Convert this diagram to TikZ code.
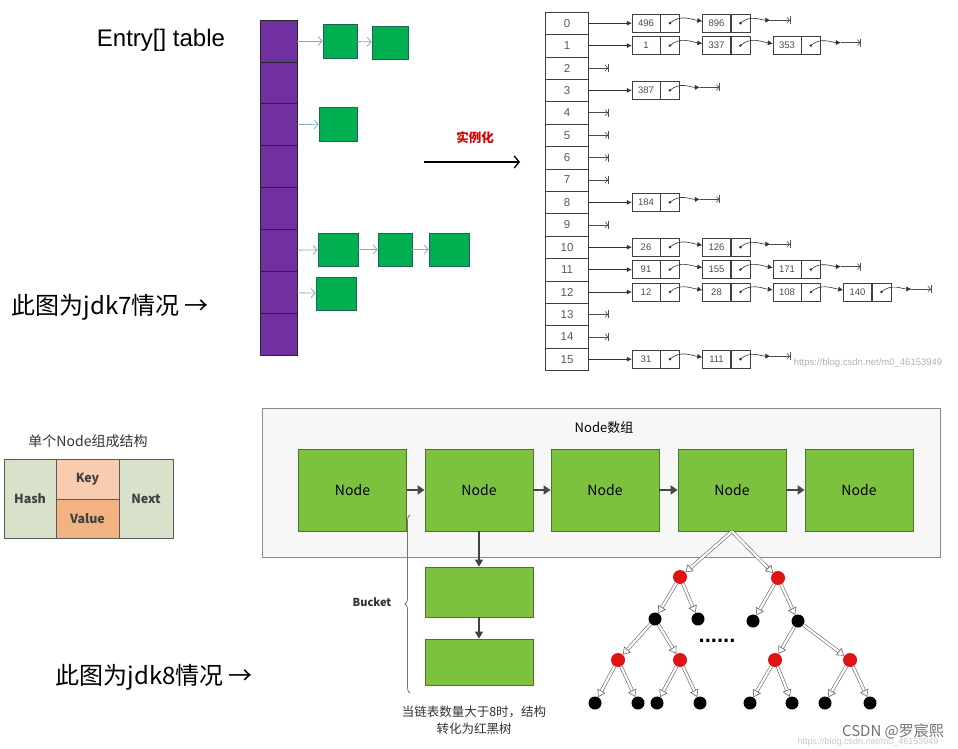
\documentclass[tikz,border=0pt]{standalone}
\usepackage{fontspec}
\setmainfont{Liberation Sans}
\newfontfamily\cjk{Noto Sans CJK SC}
\usetikzlibrary{arrows.meta, positioning, decorations.pathreplacing}
\definecolor{slotpurple}{RGB}{112,48,160}
\definecolor{entrygreen}{RGB}{0,176,80}
\definecolor{entryedge}{RGB}{30,100,90}
\definecolor{linkblue}{RGB}{140,170,200}
\definecolor{nodegreen}{RGB}{124,194,62}
\definecolor{nodeedge}{RGB}{75,120,40}
\definecolor{hashbg}{RGB}{216,226,202}
\definecolor{keybg}{RGB}{248,204,174}
\definecolor{valuebg}{RGB}{243,178,130}
\definecolor{treered}{RGB}{225,20,20}
\tikzset{
  slot/.style={draw=black!85, fill=slotpurple, minimum width=37pt, minimum height=41.9pt, inner sep=0pt, line width=0.8pt},
  gbox/.style={draw=entryedge, fill=entrygreen, inner sep=0pt, line width=0.7pt},
  blink/.style={draw=linkblue, line width=0.8pt, -{Straight Barb[length=4pt,width=9pt]}},
  idx/.style={draw=black!75, minimum width=43pt, minimum height=22.4pt, inner sep=0pt, text=black!65, font=\fontsize{11.5}{11.5}\selectfont},
  valcell/.style={draw=black!75, minimum width=28pt, minimum height=18pt, inner sep=0pt, text=black!70, font=\fontsize{9.5}{9.5}\selectfont},
  ptrcell/.style={valcell, minimum width=19pt},
  hop/.style={draw=black!80, line width=0.6pt, -{Latex[length=5pt,width=5pt]}},
  nullend/.style={draw=black!70, line width=0.6pt, -{Straight Barb[length=2.5pt,width=6pt]Bar[width=8pt]}},
  nodebox/.style={draw=nodeedge, fill=nodegreen, minimum width=108pt, minimum height=82pt, inner sep=0pt, line width=0.8pt, font=\cjk\fontsize{14}{14}\selectfont},
  darkarrow/.style={draw=black!72, line width=2pt, -{Triangle[length=7pt,width=9pt]}},
  downarrow/.style={draw=black!75, line width=1.3pt, -{Triangle[length=7pt,width=8pt]}},
  partcell/.style={draw=black!65, inner sep=0pt, line width=0.8pt, text=black!75, font=\cjk\bfseries\fontsize{12.5}{12.5}\selectfont},
  redball/.style={circle, fill=treered, minimum size=14pt, inner sep=0pt},
  blackball/.style={circle, fill=black, minimum size=13pt, inner sep=0pt},
  treelink/.style={draw=black!60, double=white, double distance=2.2pt, line width=0.6pt, -{Triangle[open, length=7pt, width=9pt, fill=white]}}
}
\begin{document}
\begin{tikzpicture}[x=1pt, y=-1pt]
  \fill[white] (0,0) rectangle (958,749);
  \useasboundingbox (0,0) rectangle (958,749);

  \node[font=\fontsize{24}{24}\selectfont] (title7) at (161,40) {Entry[] table};
  \node[anchor=west, font=\cjk\fontsize{24}{24}\selectfont] (jdk7) at (8,307) {此图为jdk7情况 →};
  \node[anchor=west, font=\cjk\fontsize{24}{24}\selectfont] (jdk8) at (52,677) {此图为jdk8情况 →};

  \foreach \r in {0,...,7}
    \node[slot] (s\r) at (278.5,{41+41.9*\r}) {};
  \node[gbox, minimum width=34pt, minimum height=34pt] (g1) at (340,41) {};
  \node[gbox, minimum width=36pt, minimum height=33pt] (g2) at (390,42.5) {};
  \node[gbox, minimum width=38pt, minimum height=34pt] (g3) at (338,124) {};
  \node[gbox, minimum width=40pt, minimum height=33pt] (g4) at (338,249.5) {};
  \node[gbox, minimum width=34pt, minimum height=33pt] (g5) at (395,249.5) {};
  \node[gbox, minimum width=40pt, minimum height=33pt] (g6) at (449,249.5) {};
  \node[gbox, minimum width=40pt, minimum height=33pt] (g7) at (336,293.5) {};
  \foreach \a/\b in {s0/g1, g1/g2, s2/g3, s5/g4, g4/g5, g5/g6, s6/g7}
    \draw[blink] (\a) -- (\b);

  \node[text=red!85!black, font=\cjk\bfseries\fontsize{12.5}{12.5}\selectfont] (inst) at (475,138) {实例化};
  \coordinate (ia) at (424,162);
  \coordinate (ib) at (520,162);
  \draw[line width=1.3pt, -{Straight Barb[length=5pt,width=12pt]}] (ia) -- (ib);

  \foreach \r in {0,...,15}
    \node[idx] (i\r) at (567,{23.2+22.4*\r}) {\r};
  \newcommand{\chainrow}[3]{%
    \foreach \v [count=\k] in {#3} {
      \node[valcell] (e#1-\k) at ({646+70.5*(\k-1)},{23.2+22.4*#1}) {\v};
      \node[ptrcell, right=0pt of e#1-\k] (p#1-\k) {};
      \fill[black!80] (p#1-\k) circle (1.4pt);
    }
    \draw[hop] (i#1) -- (e#1-1);
    \foreach \k [evaluate=\k as \j using int(\k+1)] in {1,...,#2} {
      \ifnum\j>#2\relax\else
        \draw[hop] (p#1-\k.center) .. controls +(10,-9) and +(-12,-2) .. ([yshift=2pt]e#1-\j.west);
      \fi
    }
    \coordinate (m#1) at ([xshift=30pt,yshift=3pt]p#1-#2.center);
    \coordinate (z#1) at ([xshift=50pt,yshift=3pt]p#1-#2.center);
    \draw[hop] (p#1-#2.center) .. controls +(10,-9) and +(-10,0) .. (m#1);
    \draw[nullend] (m#1) -- (z#1);
  }
  \chainrow{0}{2}{496,896}
  \chainrow{1}{3}{1,337,353}
  \chainrow{3}{1}{387}
  \chainrow{8}{1}{184}
  \chainrow{10}{2}{26,126}
  \chainrow{11}{3}{91,155,171}
  \chainrow{12}{4}{12,28,108,140}
  \chainrow{15}{2}{31,111}
  \foreach \r in {2,4,5,6,7,9,13,14} {
    \coordinate (z\r) at ([xshift=20pt]i\r.east);
    \draw[nullend] (i\r) -- (z\r);
  }
  \node[text=black!30, font=\fontsize{9.5}{9.5}\selectfont] (mark1) at (868,363) {https://blog.csdn.net/m0\_46153949};

  \node[font=\cjk\fontsize{14}{14}\selectfont, text=black!80] (parts) at (88,441) {单个Node组成结构};
  \node[partcell, fill=hashbg, minimum width=52pt, minimum height=79pt] (hash) at (30,498.5) {Hash};
  \node[partcell, fill=keybg, minimum width=63pt, minimum height=40pt] (key) at (87.5,479) {Key};
  \node[partcell, fill=valuebg, minimum width=63pt, minimum height=39pt] (value) at (87.5,518.5) {Value};
  \node[partcell, fill=hashbg, minimum width=54pt, minimum height=79pt] (next) at (146,498.5) {Next};

  \node[draw=black!45, fill=black!3, minimum width=678pt, minimum height=149pt, line width=0.8pt] (panel) at (601,482.5) {};
  \node[font=\cjk\fontsize{13}{13}\selectfont] (arr) at (604,428) {Node数组};
  \foreach \x [count=\k] in {352.5,479,605,732,859}
    \node[nodebox] (n\k) at (\x,490) {Node};
  \foreach \a/\b in {n1/n2, n2/n3, n3/n4, n4/n5}
    \draw[darkarrow] (\a) -- (\b);

  \node[nodebox, minimum height=50pt] (bk1) at (479,592) {};
  \node[nodebox, minimum height=46pt] (bk2) at (479,662) {};
  \draw[downarrow] (n2) -- (bk1);
  \draw[downarrow] (bk1) -- (bk2);
  \coordinate (bra) at (410,693);
  \coordinate (brb) at (410,515);
  \draw[black!55, line width=0.8pt, decorate, decoration={brace, amplitude=5pt}] (bra) -- (brb);
  \node[font=\cjk\bfseries\fontsize{11}{11}\selectfont, text=black!80] (bucket) at (372,602) {Bucket};
  \node[align=center, font=\cjk\fontsize{12.5}{17}\selectfont, text=black!80] (cap) at (474,720) {当链表数量大于8时，结构\\转化为红黑树};

  \foreach \n/\x/\y/\c in {ta/680/577/redball, tb/778/578/redball, tc/655/619/blackball, td/698/619/blackball,
      te/753/621/blackball, tf/798/621/blackball, tg/618/660/redball, th/680/660/redball, ti/775/660/redball, tj/850/660/redball,
      l1/595/703/blackball, l2/638/703/blackball, l3/657/703/blackball, l4/700/703/blackball,
      l5/750/703/blackball, l6/792/703/blackball, l7/825/703/blackball, l8/870/703/blackball}
    \node[\c] (\n) at (\x,\y) {};
  \draw[treelink] (n4.south) -- (ta);
  \draw[treelink] (n4.south) -- (tb);
  \foreach \a/\b in {ta/tc, ta/td, tc/tg, tc/th, tg/l1, tg/l2, th/l3, th/l4,
      tb/te, tb/tf, tf/ti, tf/tj, ti/l5, ti/l6, tj/l7, tj/l8}
    \draw[treelink] (\a) -- (\b);
  \node[font=\bfseries\fontsize{22}{22}\selectfont] (more) at (717,641) {......};

  \node[text=black!22, font=\fontsize{9}{9}\selectfont] (mark2) at (868,742) {https://blog.csdn.net/m0\_46153949};
  \node[text=black!55, font=\cjk\fontsize{15}{15}\selectfont] (mark3) at (893,731) {CSDN @罗宸熙};
\end{tikzpicture}
\end{document}
